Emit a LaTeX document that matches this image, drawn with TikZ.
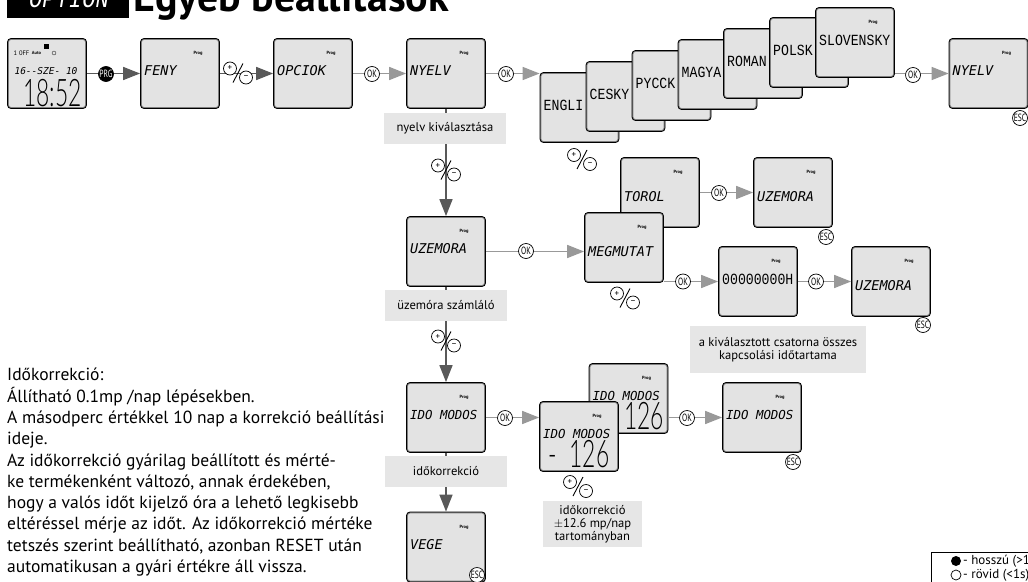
\documentclass[tikz,border=0pt]{standalone}
\usepackage{fontspec}
\setmainfont{PT Sans}
\newfontfamily\lcdfont{DejaVu Sans Mono}
\newfontfamily\lcdthin[FakeStretch=0.85]{Liberation Mono}
\newfontfamily\lcdbig[FakeStretch=0.6]{Lato Light}
\newfontfamily\btnfont[FakeStretch=0.72]{PT Sans}
\usetikzlibrary{arrows.meta}

\definecolor{lcdgray}{HTML}{E3E3E3}
\definecolor{capgray}{HTML}{E6E6E6}
\definecolor{flowdark}{HTML}{595959}
\definecolor{flowlight}{HTML}{999999}

\tikzset{
    lcd/.style={draw=black, line width=0.8pt, fill=lcdgray, rounded corners=3.5pt,
        minimum width=79pt, minimum height=70pt, inner sep=0pt,
        path picture={\draw[gray, line width=2.6pt] (path picture bounding box.south west) rectangle (path picture bounding box.north east);}},
    prog/.style={font=\bfseries\fontsize{4.5}{5}\selectfont, inner sep=0pt},
    lcdtext/.style={font=\lcdfont\itshape\fontsize{13.5}{14}\selectfont, inner sep=0pt, yshift=2.5pt},
    lowtext/.style={lcdtext, yshift=-6.5pt},
    shorttext/.style={lcdtext, font=\lcdfont\itshape\fontsize{12.4}{13}\selectfont},
    langtext/.style={font=\lcdthin\fontsize{15.5}{16}\selectfont, inner sep=0pt, yshift=2.5pt},
    bigdigits/.style={font=\lcdbig\fontsize{38}{38}\selectfont, inner sep=0pt},
    flow/.style={line width=1.6pt, color=flowdark, -{Triangle[length=17pt,width=13pt]}},
    flowpale/.style={flow, color=flowlight},
    badge/.style={circle, draw=black, line width=0.7pt, fill=white, minimum size=15pt, inner sep=0pt,
        font=\btnfont\fontsize{10.5}{10.5}\selectfont},
    smallring/.style={circle, draw=black, line width=0.7pt, fill=white, minimum size=13pt, inner sep=0pt,
        font=\fontsize{9}{9}\selectfont},
    caption/.style={fill=capgray, align=center, inner sep=0pt, font=\fontsize{12.6}{12.8}\selectfont},
    bodytext/.style={anchor=north west, inner sep=0pt, align=left, font=\fontsize{17.5}{21.3}\selectfont},
    legendtext/.style={anchor=west, inner sep=0pt, font=\fontsize{13}{13}\selectfont},
}

% a display with its text, the Prog mark is left to the caller
\newcommand{\lcdbare}[4][lcdtext]{
    \node[lcd] (#2) at (#3) {};
    \node[anchor=west, xshift=-36pt, #1] (#2-text) at (#2) {#4};
}
% one display: name, centre, text
\newcommand{\lcdscreen}[4][lcdtext]{
    \lcdbare[#1]{#2}{#3}{#4}
    \node[prog, xshift=18pt, yshift=20pt] (#2-prog) at (#2) {Prog};
}
% the plus / minus sign
\newcommand{\plusminus}[2]{
    \coordinate (#1) at (#2);
    \node[smallring, xshift=-8pt, yshift=4.5pt] (#1-plus) at (#1) {+};
    \node[smallring, xshift=8pt, yshift=-4.5pt] (#1-minus) at (#1) {--};
    \coordinate[xshift=5pt, yshift=9.5pt] (#1-top) at (#1);
    \coordinate[xshift=-5pt, yshift=-9.5pt] (#1-bot) at (#1);
    \draw[line width=0.9pt] (#1-top) -- (#1-bot);
}

\begin{document}
\begin{tikzpicture}[x=1pt, y=-1pt]
    \useasboundingbox (0,0) rectangle (1028,581);
    \clip (0,0) rectangle (1028,581);

    % Title
    \node[fill=black, minimum width=122pt, minimum height=30pt, inner sep=0pt] (titlebox) at (68,3) {};
    \node[anchor=base, text=white, font=\lcdthin\itshape\fontsize{26}{26}\selectfont, inner sep=0pt] (titleopt) at (69,7.5) {OPTION};
    \node[anchor=base west, font=\bfseries\fontsize{42}{42}\selectfont, inner sep=0pt] (titletext) at (133,11) {Egyéb beállítások};

    % Start screen
    \node[lcd] (clock) at (47,73.5) {};
    \node[fill=black, minimum size=5pt, inner sep=0pt] (clockicon) at (46,46) {};
    \node[font=\fontsize{6.5}{7}\selectfont, inner sep=0pt] (clockoff) at (21.5,53.5) {1 0FF};
    \node[prog] (clockauto) at (36.5,53) {Auto};
    \node[circle, draw, line width=0.3pt, minimum size=4pt, inner sep=0pt] (clocksym) at (54,53) {};
    \node[lcdtext, yshift=0pt, font=\lcdfont\itshape\fontsize{9.5}{10}\selectfont] (clockdate) at (46,74) {16--SZE- 10};
    \node[bigdigits] (clocktime) at (52.5,93) {18:52};

    % Top row
    \lcdscreen{feny}{180,73.5}{FENY}
    \lcdscreen{opciok}{313,73.5}{OPCIOK}
    \lcdscreen{nyelv}{446,73.5}{NYELV}

    % Languages, each one lies on the one before
    \foreach \lname/\ltext/\cx/\cy in {en/ENGLI/579.5/107.5, cz/CESKY/625.5/96.5, ru/PYCCK/671.5/85.5, hu/MAGYA/717.5/74.5,
                               ro/ROMAN/763/63.5, pl/POLSK/809/52.5} {
        \lcdbare[langtext]{\lname}{\cx,\cy}{\ltext}
    }
    \lcdscreen[langtext]{sk}{855,42.5}{SLOVENSKY}
    \lcdscreen{nyelvback}{988.5,73.5}{NYELV}

    % Second row
    \lcdscreen{uzemora}{446,251.5}{UZEMORA}
    \lcdscreen[lowtext]{torol}{660,192.5}{TOROL}
    \lcdscreen[lowtext]{megmutat}{624,247.5}{MEGMUTAT}
    \lcdscreen[lowtext]{uzemoraback}{793,192.5}{UZEMORA}
    \lcdscreen[langtext]{counter}{758,281.5}{00000000H}
    \lcdscreen[lowtext]{uzemoravege}{891,281.5}{UZEMORA}

    % Third row
    \lcdscreen[shorttext]{idomodos}{446,417.5}{IDO MODOS}
    \lcdscreen[shorttext]{idoplus}{628.5,398.5}{IDO MODOS}
    \node[bigdigits, anchor=east] (idoplusnum) at (664,416) {126};
    \lcdscreen[shorttext]{idominus}{579,436.5}{IDO MODOS}
    \node[bigdigits] (idominusnum) at (579,454) {-\ \ 126};
    \lcdscreen[shorttext]{idoback}{762,417.5}{IDO MODOS}
    \lcdscreen{vege}{446,547}{VEGE}

    % Connectors
    \draw[flow] (clock) -- (feny);
    \draw[flow] (feny) -- (opciok);
    \draw[flowpale] (opciok) -- (nyelv);
    \draw[flowpale] (nyelv.east) -- (nyelv.east -| en.west);
    \draw[flowpale] (nyelvback.west -| sk.east) -- (nyelvback.west);
    \draw[flow] (nyelv) -- (uzemora);
    \draw[flowpale] (uzemora.east) -- (uzemora.east -| megmutat.west);
    \draw[flowpale] (torol) -- (uzemoraback);
    \draw[flowpale] (counter.west -| megmutat.east) -- (counter.west);
    \draw[flowpale] (counter) -- (uzemoravege);
    \draw[flow] (uzemora) -- (idomodos);
    \draw[flowpale] (idomodos.east) -- (idomodos.east -| idominus.west);
    \draw[flowpale] (idoback.west -| idoplus.east) -- (idoback.west);
    \draw[flow] (idomodos) -- (vege);

    % Captions lie over the vertical lines
    \node[caption, minimum width=122pt, minimum height=31pt] (capnyelv) at (445,128.5) {nyelv kiválasztása};
    \node[caption, minimum width=122pt, minimum height=31pt] (capuzem) at (446,305.5) {üzemóra számláló};
    \node[caption, minimum width=122pt, minimum height=31pt] (capido) at (446,471.5) {időkorrekció};
    \node[caption, minimum width=176pt, minimum height=47pt] (capcsat) at (778,349.5) {a kiválasztott csatorna összes\\kapcsolási időtartama};
    \node[caption, minimum width=99pt, minimum height=46pt] (caprange) at (592.5,524) {időkorrekció\\$\pm$12.6 mp/nap\\tartományban};

    % Buttons on the lines
    \node[badge, fill=black, text=white] (prgbtn) at (106,74) {PRG};
    \foreach \okname/\ox/\oy in {oka/372/74, okb/506/74, okc/913/75, okd/526/251, oke/719/193,
                                 okf/683/281.5, okg/816/281.5, okh/505/418, oki/687/418} {
        \node[badge] (\okname) at (\ox,\oy) {OK};
    }
    \foreach \escname/\ox/\oy in {esca/1020/118, escb/826/237, escc/923/325, escd/793/462, esce/477/575} {
        \node[badge] (\escname) at (\ox,\oy) {ESC};
    }
    \plusminus{pma}{238,73}
    \plusminus{pmb}{582,159.5}
    \plusminus{pmc}{446,170}
    \plusminus{pmd}{625,298}
    \plusminus{pme}{446,341}
    \plusminus{pmf}{578,486.5}

    % Note on the left
    \node[bodytext] (note) at (7,368) {Időkorrekció:\\
        Állítható 0.1mp /nap lépésekben.\\
        A másodperc értékkel 10 nap a korrekció beállítási\\
        ideje.\\
        Az időkorrekció gyárilag beállított és mérté-\\
        ke termékenként változó, annak érdekében,\\
        hogy a valós időt kijelző óra a lehető legkisebb\\
        eltéréssel mérje az időt. Az időkorrekció mértéke\\
        tetszés szerint beállítható, azonban RESET után\\
        automatikusan a gyári értékre áll vissza.};

    % Legend, it runs off the page
    \node[draw=black, line width=0.7pt, minimum width=120pt, minimum height=40pt, anchor=north west, inner sep=0pt] (legendbox) at (931,552) {};
    \node[circle, fill=black, minimum size=10pt, inner sep=0pt] (longdot) at (956,561) {};
    \node[circle, draw=black, line width=0.7pt, minimum size=10pt, inner sep=0pt] (shortdot) at (956,575) {};
    \node[legendtext] (longtext) at (963,561) {- hosszú (>1s)};
    \node[legendtext] (shorttext) at (963,575) {- rövid (<1s)};
\end{tikzpicture}
\end{document}
